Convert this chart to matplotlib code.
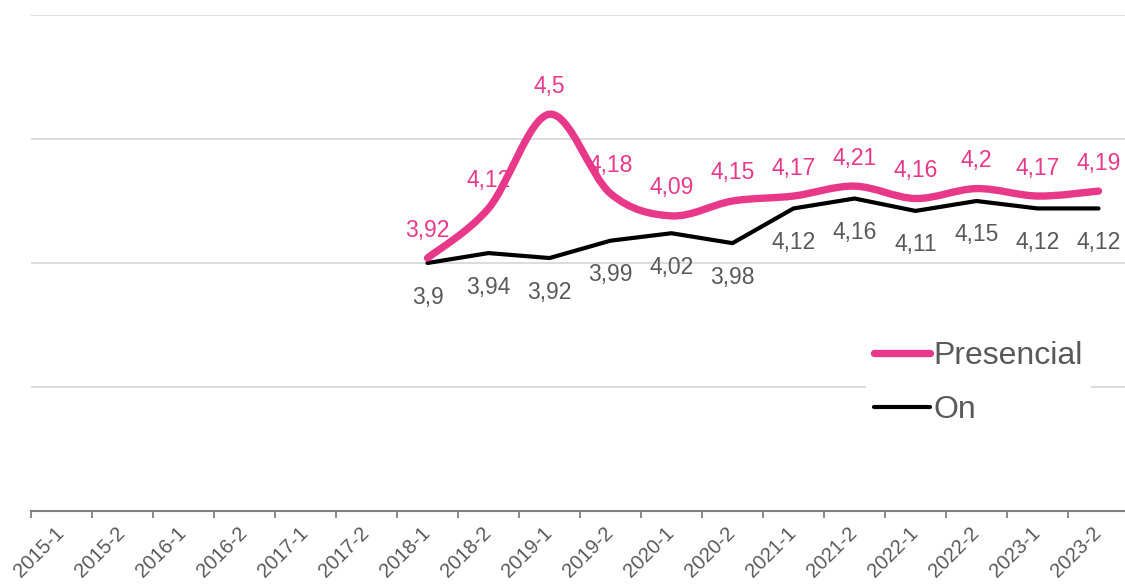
import numpy as np
import matplotlib
matplotlib.use("Agg")
import matplotlib.pyplot as plt
from matplotlib.path import Path
from matplotlib.patches import PathPatch
from matplotlib.lines import Line2D

plt.rcParams['font.family'] = ['Liberation Sans', 'DejaVu Sans']

semesters = ['2015-1', '2015-2', '2016-1', '2016-2', '2017-1', '2017-2',
             '2018-1', '2018-2', '2019-1', '2019-2', '2020-1', '2020-2',
             '2021-1', '2021-2', '2022-1', '2022-2', '2023-1', '2023-2']
first_idx = 6  # data begins at 2018-1
presencial = [3.92, 4.12, 4.5, 4.18, 4.09, 4.15, 4.17, 4.21, 4.16, 4.2, 4.17, 4.19]
online = [3.9, 3.94, 3.92, 3.99, 4.02, 3.98, 4.12, 4.16, 4.11, 4.15, 4.12, 4.12]

pink = '#E8388A'
grey_txt = '#595959'


def smooth_path(xs, ys):
    # excel-like smoothed line: cubic bezier through every point
    pts = np.column_stack([xs, ys]).astype(float)
    n = len(pts)
    verts = [pts[0]]
    codes = [Path.MOVETO]
    for i in range(n - 1):
        p0 = pts[max(i - 1, 0)]
        p1 = pts[i]
        p2 = pts[i + 1]
        p3 = pts[min(i + 2, n - 1)]
        verts += [p1 + (p2 - p0) / 6, p2 - (p3 - p1) / 6, p2]
        codes += [Path.CURVE4] * 3
    return Path(verts, codes)


def fmt(v):
    return f"{v:g}".replace('.', ',')


fig = plt.figure(figsize=(11.25, 5.85), dpi=100)
ax = fig.add_axes([31 / 1125, 74 / 585, 1098 / 1125, 496 / 585])

x = np.arange(first_idx, first_idx + len(presencial))

ax.plot(x, online, color='black', lw=3, solid_joinstyle='round', solid_capstyle='round', zorder=3)
ax.add_patch(PathPatch(smooth_path(x, presencial), fill=False, edgecolor=pink, lw=5.3,
                       capstyle='round', joinstyle='round', zorder=4))

for xi, v in zip(x, presencial):
    ax.annotate(fmt(v), (xi, v), xytext=(0, 28), textcoords='offset pixels',
                ha='center', va='center', color=pink, fontsize=16.5, zorder=6)
for xi, v in zip(x, online):
    ax.annotate(fmt(v), (xi, v), xytext=(0, -34), textcoords='offset pixels',
                ha='center', va='center', color=grey_txt, fontsize=16.5, zorder=6)

ax.set_xlim(-0.5, len(semesters) - 0.5)
ax.set_ylim(2.9, 4.9)
ax.set_yticks([2.9, 3.4, 3.9, 4.4, 4.9])
ax.yaxis.grid(True, color='#d9d9d9', lw=1.3)
ax.set_axisbelow(True)
ax.tick_params(axis='y', left=False, labelleft=False)

ax.set_xticks(np.arange(len(semesters)))
ax.set_xticklabels(semesters, rotation=45, ha='right', va='center', rotation_mode='anchor',
                   color=grey_txt, fontsize=14.5)
ax.set_xticks(np.arange(len(semesters) + 1) - 0.5, minor=True)
ax.tick_params(axis='x', which='major', length=0, pad=14)
ax.tick_params(axis='x', which='minor', length=5, width=1.3, color='#808080')

for s in ['top', 'right', 'left']:
    ax.spines[s].set_visible(False)
ax.spines['bottom'].set_color('#808080')
ax.spines['bottom'].set_linewidth(1.5)

handles = [Line2D([], [], color=pink, lw=5.3, solid_capstyle='round'),
           Line2D([], [], color='black', lw=3, solid_capstyle='round')]
leg = ax.legend(handles, ['Presencial', 'On'], loc='upper left',
                bbox_to_anchor=(866 / 1125, 1 - 333 / 585), bbox_transform=fig.transFigure,
                fontsize=23, frameon=True, facecolor='white', edgecolor='none', framealpha=1,
                handlelength=1.75, handletextpad=0.12, labelspacing=0.75, borderpad=0.25,
                borderaxespad=0)
for t in leg.get_texts():
    t.set_color(grey_txt)

fig.savefig('out.png', dpi=100)
